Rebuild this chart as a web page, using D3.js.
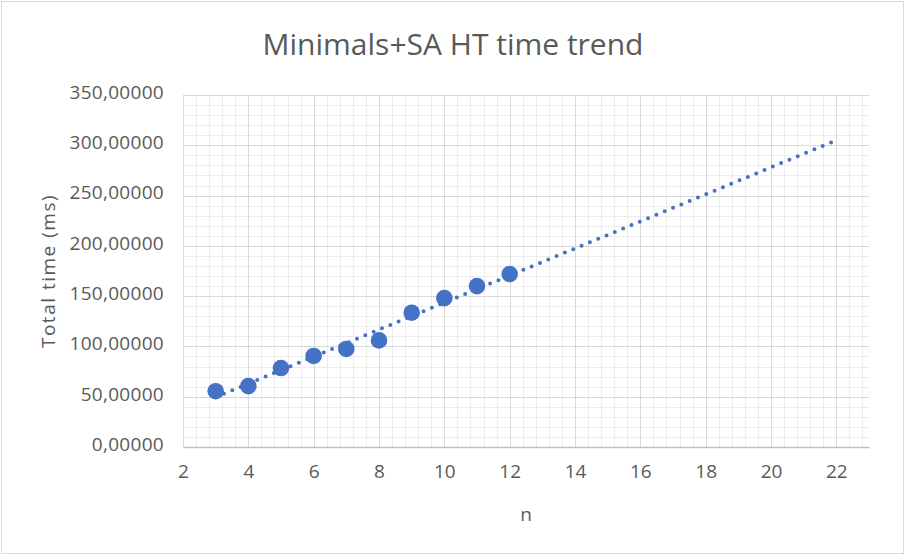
<!DOCTYPE html>
<html>
<head>
<meta charset="utf-8">
<script src="https://cdn.jsdelivr.net/npm/d3@7"></script>
<style>
  body { margin: 0; background: #fff; }
  text { font-family: "Open Sans", "Noto Sans", sans-serif; fill: #595959; }
</style>
</head>
<body>
<svg id="chart"></svg>
<script>
// data
const nValues = [3, 4, 5, 6, 7, 8, 9, 10, 11, 12];
const timeValues = [55.5, 60.5, 78.5, 90.5, 97.5, 106, 133.5, 148, 160, 172];
// linear trendline (forecast forward to n = 22), endpoints as drawn
const trendN = [3, 22];
const trendTime = [49.5, 305];
const xTicks = [2, 4, 6, 8, 10, 12, 14, 16, 18, 20, 22];
const yTicks = [0, 50, 100, 150, 200, 250, 300, 350];

const width = 906, height = 556;
const margin = { top: 95, right: 37, bottom: 109, left: 183 };
const innerW = width - margin.left - margin.right;
const innerH = height - margin.top - margin.bottom;

const svg = d3.select("#chart").attr("width", width).attr("height", height);

// chart border
svg.append("rect")
  .attr("x", 1.5).attr("y", 1.5)
  .attr("width", width - 4).attr("height", height - 4)
  .attr("fill", "#fff").attr("stroke", "#d9d9d9");

const x = d3.scaleLinear().domain([2, 23]).range([0, innerW]);
const y = d3.scaleLinear().domain([0, 350]).range([innerH, 0]);

const g = svg.append("g").attr("transform", `translate(${margin.left},${margin.top})`);

// minor gridlines
const xMinor = d3.range(2, 23.001, 0.4);
const yMinor = d3.range(0, 350.001, 10);
g.append("g").selectAll("line").data(xMinor).join("line")
  .attr("x1", d => Math.round(x(d)) + 0.5).attr("x2", d => Math.round(x(d)) + 0.5)
  .attr("y1", 0).attr("y2", innerH)
  .attr("stroke", "#ececec").attr("stroke-width", 1);
g.append("g").selectAll("line").data(yMinor).join("line")
  .attr("y1", d => Math.round(y(d)) + 0.5).attr("y2", d => Math.round(y(d)) + 0.5)
  .attr("x1", 0).attr("x2", innerW)
  .attr("stroke", "#ececec").attr("stroke-width", 1);

// major gridlines
g.append("g").selectAll("line").data(xTicks).join("line")
  .attr("x1", d => Math.round(x(d)) + 0.5).attr("x2", d => Math.round(x(d)) + 0.5)
  .attr("y1", 0).attr("y2", innerH)
  .attr("stroke", "#d9d9d9").attr("stroke-width", 1);
g.append("g").selectAll("line").data(yTicks).join("line")
  .attr("y1", d => Math.round(y(d)) + 0.5).attr("y2", d => Math.round(y(d)) + 0.5)
  .attr("x1", 0).attr("x2", innerW)
  .attr("stroke", "#d9d9d9").attr("stroke-width", 1);

// x axis
const xAxis = g.append("g")
  .attr("transform", `translate(0,${innerH})`)
  .call(d3.axisBottom(x).tickValues(xTicks).tickSize(0).tickPadding(18).tickFormat(d3.format("d")));
xAxis.select(".domain").attr("stroke", "#bfbfbf").attr("stroke-width", 1.5);
xAxis.selectAll("text").style("font-size", "19px").attr("fill", "#595959");

// y axis
const yAxis = g.append("g")
  .call(d3.axisLeft(y).tickValues(yTicks).tickSize(0).tickPadding(19)
    .tickFormat(d => d3.format(".5f")(d).replace(".", ",")));
yAxis.select(".domain").remove();
yAxis.selectAll("text").style("font-size", "19px").style("letter-spacing", "0.3px")
  .attr("dy", "0.18em").attr("fill", "#595959");

// trendline
g.append("line")
  .attr("x1", x(trendN[0])).attr("y1", y(trendTime[0]))
  .attr("x2", x(trendN[1])).attr("y2", y(trendTime[1]))
  .attr("stroke", "#4472c4").attr("stroke-width", 4)
  .attr("stroke-linecap", "round").attr("stroke-dasharray", "0,9");

// markers
g.append("g").selectAll("circle").data(nValues).join("circle")
  .attr("cx", d => x(d))
  .attr("cy", (d, i) => y(timeValues[i]))
  .attr("r", 8.3)
  .attr("fill", "#4472c4");

// title
svg.append("text")
  .attr("x", width / 2).attr("y", 55)
  .attr("text-anchor", "middle")
  .style("font-size", "30px")
  .text("Minimals+SA HT time trend");

// axis titles
svg.append("text")
  .attr("x", margin.left + innerW / 2).attr("y", 521)
  .attr("text-anchor", "middle")
  .style("font-size", "19px")
  .text("n");

svg.append("text")
  .attr("transform", `translate(55,${margin.top + innerH / 2}) rotate(-90)`)
  .attr("text-anchor", "middle")
  .style("font-size", "19px")
  .style("letter-spacing", "1.5px")
  .text("Total time (ms)");
</script>
</body>
</html>
